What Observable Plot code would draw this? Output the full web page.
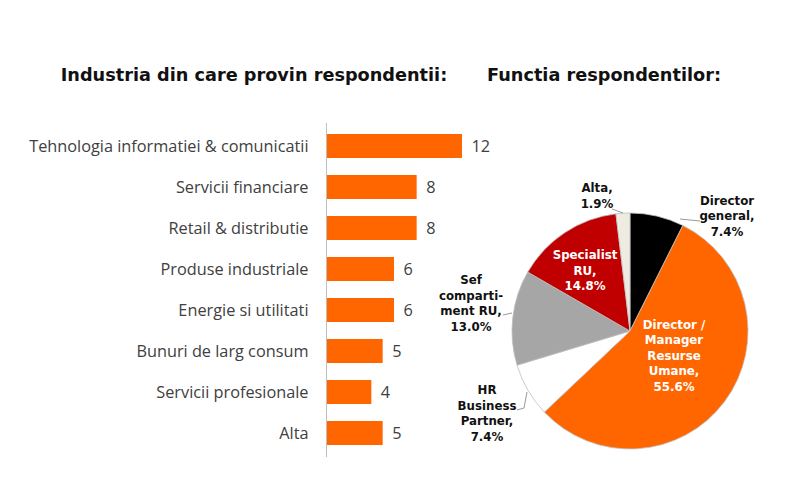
<!DOCTYPE html>
<html><head><meta charset="utf-8">
<script src="https://cdn.jsdelivr.net/npm/d3@7"></script>
<script src="https://cdn.jsdelivr.net/npm/@observablehq/plot@0.6"></script>
<style>
body{margin:0;background:#fff;}
#wrap{position:relative;width:800px;height:479px;overflow:hidden;background:#fff;}
.title{position:absolute;top:65px;font-family:"DejaVu Sans",Verdana,sans-serif;font-weight:bold;font-size:17.7px;color:#111;white-space:nowrap;transform:translateX(-50%);z-index:2;}
#chart{position:absolute;left:0;top:0;}
</style></head><body>
<div id="wrap">
<div class="title" style="left:254px">Industria din care provin respondentii:</div>
<div class="title" style="left:604px">Functia respondentilor:</div>
<div id="chart"></div>
</div>
<script>
// ---- data ----
const industries = [
  "Tehnologia informatiei & comunicatii",
  "Servicii financiare",
  "Retail & distributie",
  "Produse industriale",
  "Energie si utilitati",
  "Bunuri de larg consum",
  "Servicii profesionale",
  "Alta"
];
const industryCounts = [12, 8, 8, 6, 6, 5, 4, 5];

const roles = ["Director general", "Director / Manager Resurse Umane", "HR Business Partner", "Sef compartiment RU", "Specialist RU", "Alta"];
const roleShares = [7.4, 55.6, 7.4, 13.0, 14.8, 1.9];
const roleLabelLines = [
  ["Director", "general,", "7.4%"],
  ["Director /", "Manager", "Resurse", "Umane,", "55.6%"],
  ["HR", "Business", "Partner,", "7.4%"],
  ["Sef", "comparti-", "ment RU,", "13.0%"],
  ["Specialist", "RU,", "14.8%"],
  ["Alta,", "1.9%"]
];
const roleColors = ["#000000", "#ff6600", "#ffffff", "#a6a6a6", "#c00000", "#eeece1"];
const roleLabelColors = ["#111", "#fff", "#111", "#111", "#fff", "#111"];

// ---- layout (pixel placement of pie & its labels) ----
const pieLayout = {cx: 630, cy: 331, r: 118, lineHeight: 15.5};
const labelOffsets = [[97, -115], [44, 24.5], [-143, 82], [-159, -28], [-45, -60.5], [-33, -135.5]];
const leaderLines = [
  [[50, -112], [70, -110]],
  null,
  [[-113, 79], [-106, 77], [-103, 61]],
  [[-127, -16], [-118, -18]],
  null,
  [[-18, -122], [-7, -118]]
];

const bars = industries.map((name, i) => ({name, value: industryCounts[i]}));
const slices = roles.map((role, i) => ({role, share: roleShares[i], color: roleColors[i], lines: roleLabelLines[i], textColor: roleLabelColors[i]}));

function pieMark() {
  const {cx, cy, r, lineHeight} = pieLayout;
  const g = d3.create("svg:g");
  const arcs = d3.pie().sort(null).value(d => d.share).startAngle(0).endAngle(2 * Math.PI)(slices);
  const arc = d3.arc().innerRadius(0).outerRadius(r);
  const pg = g.append("g").attr("transform", `translate(${cx},${cy})`);
  pg.selectAll("path").data(arcs).join("path")
    .attr("d", arc)
    .attr("fill", d => d.data.color)
    .attr("stroke", "#bfbfbf")
    .attr("stroke-width", 0.8)
    .attr("stroke-linejoin", "round");
  leaderLines.forEach(pts => {
    if (!pts) return;
    pg.append("path")
      .attr("d", d3.line()(pts))
      .attr("fill", "none")
      .attr("stroke", "#7f7f7f")
      .attr("stroke-width", 0.8);
  });
  slices.forEach((s, i) => {
    const [ox, oy] = labelOffsets[i];
    const n = s.lines.length;
    const t = pg.append("text")
      .attr("text-anchor", "middle")
      .attr("font-family", "DejaVu Sans, Verdana, sans-serif")
      .attr("font-weight", "bold")
      .attr("font-size", 11.8)
      .attr("fill", s.textColor);
    s.lines.forEach((line, j) => {
      t.append("tspan")
        .attr("x", ox)
        .attr("y", oy + (j - (n - 1) / 2) * lineHeight)
        .attr("dy", "0.38em")
        .text(line);
    });
  });
  return g.node();
}

const chart = Plot.plot({
  width: 800,
  height: 479,
  marginLeft: 326,
  marginRight: 338,
  marginTop: 123,
  marginBottom: 22,
  style: {fontFamily: "'Open Sans', Lato, sans-serif", fontSize: "16.3px", color: "#404040", background: "transparent"},
  x: {domain: [0, 12], axis: null},
  y: {type: "band", domain: industries, paddingInner: 0.41, paddingOuter: 0.21, axis: null},
  marks: [
    Plot.axisY({tickSize: 0, tickPadding: 18, fontSize: 16.3, fill: "#404040", label: null}),
    Plot.barX(bars, {y: "name", x: "value", fill: "#ff6600"}),
    Plot.ruleX([0], {stroke: "#bfbfbf", strokeWidth: 1}),
    Plot.text(bars, {y: "name", x: "value", text: d => String(d.value), dx: 9, textAnchor: "start", fontSize: 16.3, fill: "#404040"}),
    pieMark
  ]
});
document.getElementById("chart").appendChild(chart);
</script>
</body></html>
